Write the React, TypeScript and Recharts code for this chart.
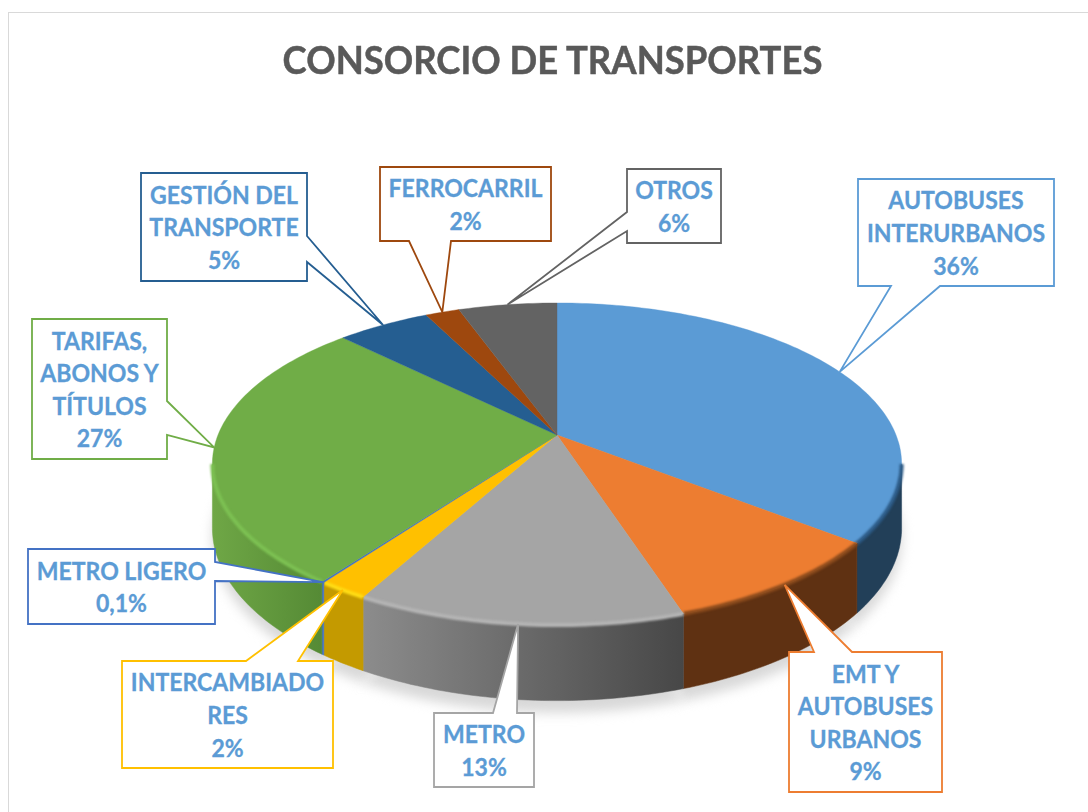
import React from 'react';
import { PieChart, Pie } from 'recharts';

const categories = [
  'AUTOBUSES INTERURBANOS',
  'EMT Y AUTOBUSES URBANOS',
  'METRO',
  'INTERCAMBIADORES',
  'METRO LIGERO',
  'TARIFAS, ABONOS Y TÍTULOS',
  'GESTIÓN DEL TRANSPORTE',
  'FERROCARRIL',
  'OTROS',
];
const values = [35.6, 9.4, 13, 2, 0.1, 27.3, 5.2, 1.9, 5.5];
const percentLabels = ['36%', '9%', '13%', '2%', '0,1%', '27%', '5%', '2%', '6%'];
const labelLines = [
  ['AUTOBUSES', 'INTERURBANOS'],
  ['EMT Y', 'AUTOBUSES', 'URBANOS'],
  ['METRO'],
  ['INTERCAMBIADO', 'RES'],
  ['METRO LIGERO'],
  ['TARIFAS,', 'ABONOS Y', 'TÍTULOS'],
  ['GESTIÓN DEL', 'TRANSPORTE'],
  ['FERROCARRIL'],
  ['OTROS'],
];

const pieData = categories.map((name, idx) => ({ name, value: values[idx], idx }));

// colours per slice: top, wall gradient start/end, bevel on the rim, callout border
const topColors = ['#5b9bd5', '#ed7d31', '#a5a5a5', '#ffc000', '#4472c4', '#70ad47', '#255e91', '#9e480e', '#636363'];
const wallFrom = ['#223f58', '#5f3112', '#8c8c8c', '#c49a00', '#4472c4', '#6fa746', '#255e91', '#9e480e', '#636363'];
const wallTo = ['#223f58', '#5f3112', '#474747', '#c49a00', '#4472c4', '#558a35', '#255e91', '#9e480e', '#636363'];
const bevel = ['#2c5a85', '#8a4a1c', '#b4b4b4', '#ffdc14', '#4472c4', '#7cc052', '#255e91', '#9e480e', '#636363'];
const borderColors = ['#5b9bd5', '#ed7d31', '#a5a5a5', '#ffc000', '#4472c4', '#70ad47', '#255e91', '#9e480e', '#636363'];

// callout boxes: x, y, w, h and the two points where the pointer leaves the box
const callouts = [
  { x: 858, y: 179, w: 196, h: 107, a: [891, 286], b: [940, 286] },
  { x: 789, y: 652, w: 153, h: 140, a: [814, 652], b: [852, 652] },
  { x: 434, y: 713, w: 100, h: 74, a: [493, 713], b: [517, 713] },
  { x: 122, y: 661, w: 211, h: 107, a: [246, 661], b: [298, 661] },
  { x: 28, y: 549, w: 187, h: 75, a: [215, 562], b: [215, 581] },
  { x: 32, y: 319, w: 135, h: 140, a: [167, 401], b: [167, 435] },
  { x: 141, y: 173, w: 166, h: 108, a: [307, 236], b: [307, 262] },
  { x: 380, y: 167, w: 171, h: 74, a: [409, 241], b: [451, 241] },
  { x: 627, y: 169, w: 94, h: 74, a: [627, 212], b: [627, 231] },
];

const CX = 557;
const CY = 435;
const RX = 339;
const RY = 155.8;
const PERSP = 0.18;
const DEPTH = 62;
const FONT = 'Lato, Carlito, Calibri, sans-serif';

// angle is the chart's own (90 = top, going down clockwise); r is a share of the radius
function project(angle: number, r = 1, drop = 0) {
  const rad = (angle * Math.PI) / 180;
  const u = Math.cos(rad) * r;
  const v = -Math.sin(rad) * r;
  const w = 1 / (1 - PERSP * v);
  return [CX + RX * u * w, CY + (RY * v + drop) * w];
}

function arcPoints(from: number, to: number, drop = 0) {
  const pts: number[][] = [];
  const step = from > to ? -1 : 1;
  for (let a = from; step < 0 ? a > to : a < to; a += step) pts.push(project(a, 1, drop));
  pts.push(project(to, 1, drop));
  return pts;
}

const toPath = (pts: number[][]) => 'M' + pts.map((p) => `${p[0].toFixed(1)},${p[1].toFixed(1)}`).join('L');

// the front part of the rim, in chart angles
const frontStart = 90 - 100.4;
const frontEnd = 90 - 259.6;

function ShadowSlice(props: any) {
  const pts = [project(0, 0, DEPTH + 10), ...arcPoints(props.startAngle, props.endAngle, DEPTH + 10)];
  return <path d={toPath(pts) + 'Z'} fill="#d8d8d8" style={{ filter: 'blur(6px)' }} />;
}

function Slice3D(props: any) {
  const idx = props.payload?.idx ?? props.idx;
  const { startAngle, endAngle } = props;
  const s = Math.min(startAngle, frontStart);
  const e = Math.max(endAngle, frontEnd);
  const hasFront = s > e;
  const top = [[CX, CY], ...arcPoints(startAngle, endAngle)];
  let wall = null;
  if (hasFront) {
    const upper = arcPoints(s, e);
    const lower = arcPoints(s, e, DEPTH).reverse();
    const gid = `wall-${idx}`;
    wall = (
      <>
        <defs>
          <linearGradient id={gid} gradientUnits="userSpaceOnUse" x1={Math.min(upper[0][0], upper[upper.length - 1][0])} y1={0} x2={Math.max(upper[0][0], upper[upper.length - 1][0])} y2={0}>
            <stop offset="0%" stopColor={wallFrom[idx]} />
            <stop offset="100%" stopColor={wallTo[idx]} />
          </linearGradient>
        </defs>
        <path d={toPath([...upper, ...lower]) + 'Z'} fill={`url(#${gid})`} stroke={`url(#${gid})`} strokeWidth={0.5} />
      </>
    );
  }
  return (
    <g>
      {wall}
      <path d={toPath(top) + 'Z'} fill={topColors[idx]} stroke={topColors[idx]} strokeWidth={0.4} />
      {hasFront && (
        <path d={toPath(arcPoints(s, e))} fill="none" stroke={bevel[idx]} strokeWidth={4} style={{ filter: 'blur(1.2px)' }} />
      )}
    </g>
  );
}

function Callout(props: any) {
  const i = props.index;
  const box = callouts[i];
  const tip = project(props.midAngle);
  const { x, y, w, h, a, b } = box;
  const corners = [[x, y], [x + w, y], [x + w, y + h], [x, y + h]];
  // walk the box clockwise and break into the side that holds the pointer
  let pts: number[][];
  if (a[1] === y && b[1] === y) {
    pts = [corners[0], a, tip, b, corners[1], corners[2], corners[3]];
  } else if (a[0] === x + w) {
    pts = [corners[0], corners[1], a, tip, b, corners[2], corners[3]];
  } else if (a[1] === y + h) {
    pts = [corners[0], corners[1], corners[2], b, tip, a, corners[3]];
  } else {
    pts = [corners[0], corners[1], corners[2], corners[3], b, tip, a];
  }
  const lines = [...labelLines[i], percentLabels[i]];
  const lineH = 32.6;
  const first = y + h / 2 - ((lines.length - 1) * lineH) / 2 + 9.5;
  const mid = x + w / 2;
  return (
    <g>
      <path d={toPath(pts) + 'Z'} fill="#ffffff" stroke={borderColors[i]} strokeWidth={1.8} strokeLinejoin="miter" />
      <text
        transform={`translate(${mid} 0) scale(0.96 1)`}
        textAnchor="middle"
        fontFamily={FONT}
        fontWeight={700}
        fontSize={24}
        fill="#5b9bd5"
        stroke="#5b9bd5"
        strokeWidth={0.3}
      >
        {lines.map((l, n) => (
          <tspan key={n} x={0} y={first + n * lineH}>
            {l}
          </tspan>
        ))}
      </text>
    </g>
  );
}

export default function App() {
  return (
    <div style={{ position: 'absolute', left: 0, top: 0, width: 1088, height: 812, overflow: 'hidden', background: '#fff' }}>
      <div style={{ position: 'absolute', left: 8, top: 12, width: 1200, height: 900, border: '1.5px solid #d9d9d9' }} />
      <div
        style={{
          position: 'absolute',
          left: 0,
          top: 37,
          width: 1105,
          textAlign: 'center',
          fontFamily: FONT,
          fontWeight: 700,
          fontSize: 39,
          lineHeight: '45px',
          color: '#595959',
          transform: 'scaleX(0.935)',
          transformOrigin: '552.5px 0',
          WebkitTextStroke: '0.5px #595959',
        }}
      >
        CONSORCIO DE TRANSPORTES
      </div>
      <div style={{ position: 'absolute', left: 0, top: 0 }}>
        <PieChart width={1088} height={812} margin={{ top: 0, right: 0, bottom: 0, left: 0 }}>
          <Pie
            data={pieData}
            dataKey="value"
            nameKey="name"
            cx={CX}
            cy={CY}
            outerRadius={RX}
            startAngle={90}
            endAngle={-270}
            isAnimationActive={false}
            shape={ShadowSlice}
          />
          <Pie
            data={pieData}
            dataKey="value"
            nameKey="name"
            cx={CX}
            cy={CY}
            outerRadius={RX}
            startAngle={90}
            endAngle={-270}
            isAnimationActive={false}
            shape={Slice3D}
            label={Callout}
            labelLine={false}
          />
        </PieChart>
      </div>
    </div>
  );
}
